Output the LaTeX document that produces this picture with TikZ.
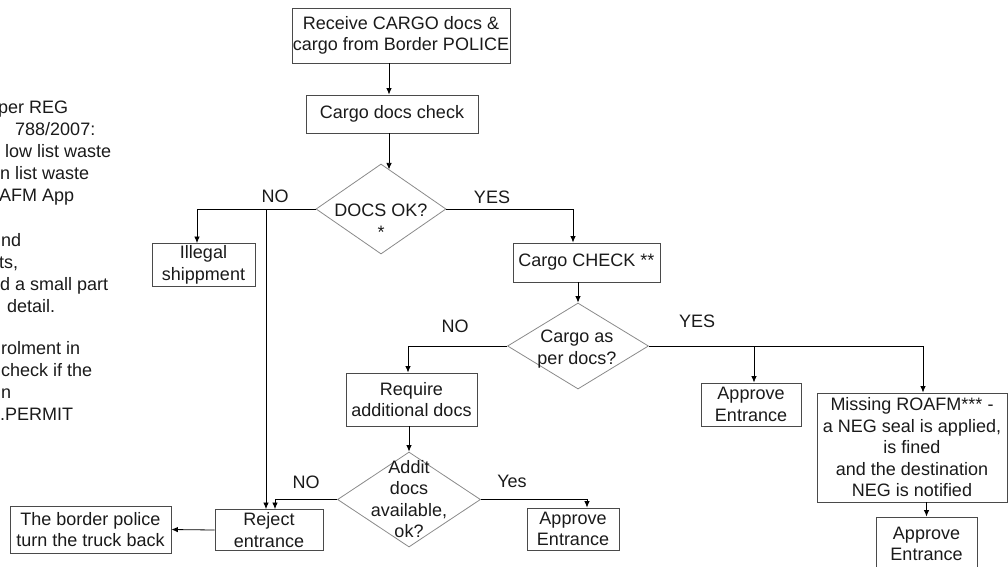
\documentclass[tikz,border=0pt]{standalone}
\usepackage{fontspec}
\setmainfont{Liberation Sans}
\usetikzlibrary{shapes.geometric,arrows.meta}
\definecolor{boxgray}{HTML}{4A4A4A}
\definecolor{diagray}{HTML}{8A8A8A}
\definecolor{txt}{HTML}{1A1A1A}
\begin{document}
\begin{tikzpicture}[x=1pt,y=-1pt,
  every node/.style={font=\fontsize{18}{21.5}\selectfont, text=txt},
  box/.style={draw=boxgray, line width=0.9pt, inner sep=0pt, align=center},
  dia/.style={draw=diagray, line width=0.8pt, shape=diamond, inner sep=0pt},
  dtext/.style={inner sep=0pt, align=center},
  lbl/.style={inner sep=0pt},
  side/.style={inner sep=0pt, anchor=base west},
  arr/.style={-{Latex[length=6.5pt,width=5.5pt]}, line width=0.8pt, draw=black},
  conn/.style={line width=0.8pt, draw=black}
]
\useasboundingbox (0,0) rectangle (1008,566);
\clip (0,0) rectangle (1008,566);

% helper x positions
\coordinate (v1) at (389,0);
\coordinate (v2) at (197,0);
\coordinate (v3) at (266,0);
\coordinate (v4) at (573,0);
\coordinate (v6) at (408,0);
\coordinate (v7) at (587,0);
\coordinate (v8) at (275,0);
\coordinate (v9) at (754,0);
\coordinate (v10) at (923,0);

% boxes
\node[box, minimum width=218pt, minimum height=55pt] (b1) at (401,35.5) {Receive CARGO docs \&\\cargo from Border POLICE};
\node[box, minimum width=172pt, minimum height=38pt] (b2) at (392,114) {Cargo docs check};
\node[box, minimum width=103pt, minimum height=43pt] (ill) at (203.5,265) {Illegal\\shippment};
\node[box, minimum width=147pt, minimum height=39pt] (cc) at (586.5,262.5) {Cargo CHECK **};
\node[box, minimum width=131pt, minimum height=53pt] (req) at (411.5,399.5) {Require\\additional docs};
\node[box, minimum width=92pt, minimum height=42pt] (app1) at (573,529) {Approve\\Entrance};
\node[box, minimum width=108pt, minimum height=41pt] (rej) at (269,530) {Reject\\entrance};
\node[box, minimum width=161pt, minimum height=47pt] (bp) at (90.5,529.5) {The border police\\turn the truck back};
\node[box, minimum width=100pt, minimum height=43pt] (app2) at (751,404.5) {Approve\\Entrance};
\node[box, minimum width=190pt, minimum height=109pt] (miss) at (912,447.5) {Missing ROAFM*** -\\a NEG seal is applied,\\is fined\\and the destination\\NEG is notified};
\node[box, minimum width=101pt, minimum height=54pt] (app3) at (926.5,544) {Approve\\Entrance};

% diamonds
\node[dia, minimum width=130pt, minimum height=90pt] (d1) at (381,209) {};
\node[dtext] (d1t) at (381,221) {DOCS OK?\\*};
\node[dia, minimum width=141pt, minimum height=86pt] (d2) at (578,346) {};
\node[dtext] (d2t) at (577,349) {Cargo as\\per docs?};
\node[dia, minimum width=143pt, minimum height=95pt] (d3) at (409,499.5) {};
\node[dtext] (d3t) at (409,499) {Addit\\docs\\available,\\ok?};

% connector labels
\node[lbl] (l1) at (275,196) {NO};
\node[lbl] (l2) at (492,197) {YES};
\node[lbl] (l3) at (455,326) {NO};
\node[lbl] (l4) at (697,321) {YES};
\node[lbl] (l5) at (306,482) {NO};
\node[lbl] (l6) at (512,481) {Yes};

% connectors
\draw[arr] (v1 |- b1.south) -- (v1 |- b2.north);
\draw[arr] (v1 |- b2.south) -- (v1 |- d1.78);
\draw[arr] (d1.west) -| (v2 |- ill.north);
\draw[arr] (v3 |- d1.west) -- (v3 |- rej.north);
\draw[arr] (d1.east) -| (v4 |- cc.north);
\draw[arr] (d2.north |- cc.south) -- (d2.north);
\draw[arr] (d2.west) -| (v6 |- req.north);
\draw[arr] (d3.north |- req.south) -- (d3.north);
\draw[arr] (d3.east) -| (v7 |- app1.north);
\draw[arr] (d3.west) -| (v8 |- rej.north);
\draw[arr] (rej.west) -- (bp.east);
\draw[arr] (d2.east) -| (v10 |- miss.north);
\draw[arr] (v9 |- d2.east) -- (v9 |- app2.north);
\draw[arr] (app3.north |- miss.south) -- (app3.north);

% side notes (cut off at the left edge, as in the reference)
\node[side] (s1) at (-2,113) {per REG};
\node[side] (s2) at (15,135) {788/2007:};
\node[side] (s3) at (5,157) {low list waste};
\node[side] (s4) at (0,179) {n list waste};
\node[side] (s5) at (-1,201) {AFM App};
\node[side] (s6) at (1,246) {nd};
\node[side] (s7) at (-1,268) {ts,};
\node[side] (s8) at (0,290) {d a small part};
\node[side] (s9) at (7,312) {detail.};
\node[side] (s10) at (1,354) {rolment in};
\node[side] (s11) at (1,376) {check if the};
\node[side] (s12) at (1,398) {n};
\node[side] (s13) at (0,420) {.PERMIT};
\end{tikzpicture}
\end{document}
